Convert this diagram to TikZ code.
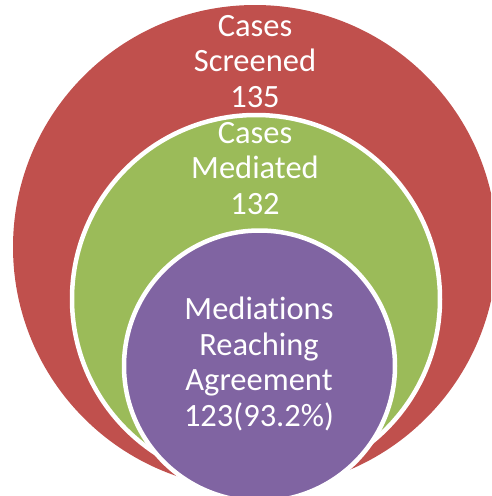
\documentclass[tikz,border=0pt]{standalone}
\usepackage{fontspec}
\setmainfont{Carlito}[Ligatures=NoCommon]
\definecolor{cred}{HTML}{C0504D}
\definecolor{cgreen}{HTML}{9BBB59}
\definecolor{cpurple}{HTML}{8064A2}
\tikzset{
  ring/.style={circle, inner sep=0pt, outer sep=0pt, draw=white, line width=4.5pt},
  lbl/.style={text=white, align=center, inner sep=0pt, font=\fontsize{32.5}{35.5}\selectfont, anchor=base}
}
\begin{document}
\begin{tikzpicture}[x=1pt, y=-1pt]
\useasboundingbox (0,0) rectangle (491,496);
\begin{scope}
\clip (0,0) rectangle (491,496);
\node[ring, fill=cred, draw=none, minimum size=484pt] (outer) at (255,247) {};
\node[ring, fill=cgreen, minimum size=368pt] (middle) at (256,299) {};
\node[ring, fill=cpurple, minimum size=271pt] (inner) at (259.5,366) {};
\end{scope}
\node[lbl] (t1) at (255,107) {Cases\\Screened\\135};
\node[lbl] (t2) at (255,214) {Cases\\Mediated\\132};
\node[lbl] (t3) at (259,426) {Mediations\\Reaching\\Agreement\\123(93.2\%)};
\end{tikzpicture}
\end{document}
